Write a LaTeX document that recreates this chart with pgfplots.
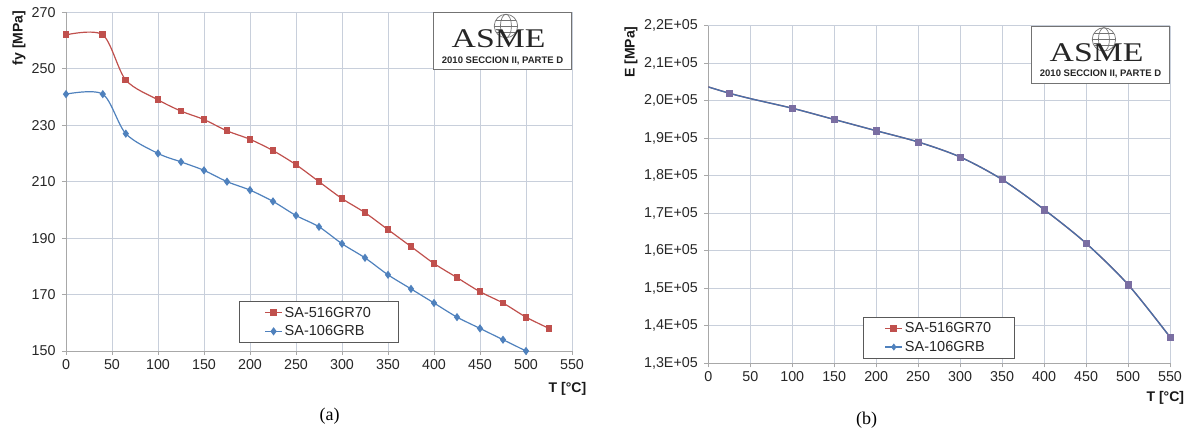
\documentclass[border=0pt]{standalone}
\usepackage{fontspec}
\setmainfont{Liberation Sans}
\newfontfamily\serif{Liberation Serif}
\usepackage{pgfplots}
\pgfplotsset{compat=1.18}
\definecolor{exred}{HTML}{C0504D}
\definecolor{exblue}{HTML}{4F81BD}
\definecolor{lineblue}{HTML}{4A70A8}
\definecolor{expurp}{HTML}{7A6EA2}
\definecolor{gridc}{HTML}{C8CFDB}
\definecolor{axc}{HTML}{A8A8A8}
\pgfplotsset{
 mystyle/.style={
  scale only axis,
  axis lines=left, axis line style={axc,-, line width=0.8pt},
  grid=major, grid style={gridc, line width=0.8pt},
  tick align=outside, major tick length=4pt, tick style={axc, line width=0.8pt},
  tick label style={font=\fontsize{14.3}{16}\selectfont, text=black!85},
  yticklabel style={xshift=-3pt},
  xticklabel style={yshift=-1pt},
  /pgf/number format/assume math mode=true,
  label style={font=\bfseries\fontsize{14}{16}\selectfont, text=black!90},
  legend style={draw=black!65, line width=0.8pt, font=\fontsize{14.5}{16}\selectfont, text=black!85, inner ysep=3.5pt, row sep=3pt, anchor=north west},
  legend cell align=left,
  xmin=0, xmax=550, xtick={0,50,...,550},
 }
}
\newcommand{\logo}[1]{%
  \node[draw=black!55, line width=0.9pt, fill=white, minimum width=138pt, minimum height=57pt, anchor=north east, inner sep=0] (#1) at (#1ax.north east) {};
  \begin{scope}[shift={([xshift=3.4pt,yshift=-13.7pt]#1.north)}, black!55, line width=0.7pt]
    \draw (0,0) circle (11.7pt);
    \draw (0,0) ellipse (5.5pt and 11.7pt);
    \draw (-11.7pt,0) -- (11.7pt,0);
    \draw (-10pt,6pt) -- (10pt,6pt);
    \draw (-10pt,-6pt) -- (10pt,-6pt);
  \end{scope}
  \node[font=\serif\fontsize{27}{27}\selectfont, inner sep=0, black!85, xscale=1.25, anchor=base] at ([xshift=-4pt,yshift=-35.4pt]#1.north) {ASME};
  \node[font=\bfseries\fontsize{9.5}{10}\selectfont, inner sep=0, black!85] at ([yshift=9.6pt]#1.south) {2010 SECCION II, PARTE D};
}
\begin{document}
\begin{tikzpicture}
\useasboundingbox (0,0) rectangle (1192pt,439pt);
\begin{axis}[mystyle, name=Aax,
  at={(66pt,88pt)}, anchor=south west, width=506pt, height=338.7pt,
  ymin=150, ymax=270, ytick={150,170,...,270},
  xlabel={T [°C]}, ylabel={fy [MPa]},
  xlabel style={at={(axis description cs:0.991,-0.112)}, anchor=center},
  ylabel style={at={(axis description cs:-0.093,0.924)}, anchor=center},
  legend style={at={(axis description cs:0.342,0.1476)}, inner xsep=25pt},
]
\addplot[exred, line width=1.2pt, smooth, mark=square*, mark size=2.8pt, mark options={solid}] coordinates {
(0,262) (40,262) (65,246) (100,239) (125,235) (150,232) (175,228) (200,225) (225,221) (250,216) (275,210) (300,204) (325,199) (350,193) (375,187) (400,181) (425,176) (450,171) (475,167) (500,162) (525,158)};
\addlegendentry{SA-516GR70}
\addplot[exblue, line width=1.2pt, smooth, mark=diamond*, mark size=3.2pt, mark options={solid}] coordinates {
(0,241) (40,241) (65,227) (100,220) (125,217) (150,214) (175,210) (200,207) (225,203) (250,198) (275,194) (300,188) (325,183) (350,177) (375,172) (400,167) (425,162) (450,158) (475,154) (500,150)};
\addlegendentry{SA-106GRB}
\end{axis}
\logo{A}
\begin{axis}[mystyle, name=Bax,
  at={(708.3pt,75.7pt)}, anchor=south west, width=461.7pt, height=337.6pt,
  ymin=130000, ymax=220000, ytick={130000,140000,150000,160000,170000,180000,190000,200000,210000,220000},
  yticklabels={{1,3E+05},{1,4E+05},{1,5E+05},{1,6E+05},{1,7E+05},{1,8E+05},{1,9E+05},{2,0E+05},{2,1E+05},{2,2E+05}},
  scaled y ticks=false,
  xlabel={T [°C]}, ylabel={E [MPa]},
  xlabel style={at={(axis description cs:0.990,-0.1037)}, anchor=center},
  ylabel style={at={(axis description cs:-0.1674,0.922)}, anchor=center},
  legend style={at={(axis description cs:0.3357,0.138)}, inner xsep=21pt},
]
\addplot[exred, line width=1.2pt, smooth, forget plot] coordinates {
(-75,209000) (25,202000) (100,198000) (150,195000) (200,192000) (250,189000) (300,185000) (350,179000) (400,171000) (450,162000) (500,151000) (550,137000)};
\addplot[lineblue, line width=1.4pt, smooth, forget plot] coordinates {
(-75,209000) (25,202000) (100,198000) (150,195000) (200,192000) (250,189000) (300,185000) (350,179000) (400,171000) (450,162000) (500,151000) (550,137000)};
\addplot[only marks, mark=square*, mark size=3.2pt, expurp, forget plot] coordinates {
(25,202000) (100,198000) (150,195000) (200,192000) (250,189000) (300,185000) (350,179000) (400,171000) (450,162000) (500,151000) (550,137000)};
\addlegendimage{exred, line width=1.2pt, mark=square*, mark size=2.8pt}
\addlegendentry{SA-516GR70}
\addlegendimage{exblue, line width=1.2pt, mark=diamond*, mark size=2.6pt}
\addlegendentry{SA-106GRB}
\end{axis}
\logo{B}
\node[font=\serif\fontsize{18}{20}\selectfont] at (329.7pt,23pt) {(a)};
\node[font=\serif\fontsize{18}{20}\selectfont] at (866.7pt,19pt) {(b)};
\end{tikzpicture}
\end{document}
